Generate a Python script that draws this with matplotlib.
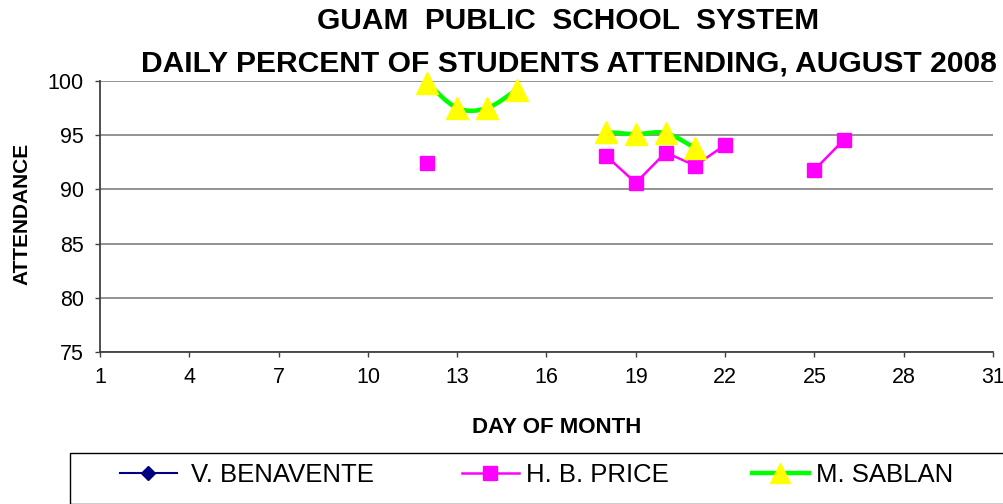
import numpy as np
import matplotlib
matplotlib.use("Agg")
import matplotlib.pyplot as plt
from matplotlib.path import Path
from matplotlib.patches import PathPatch, Rectangle
from matplotlib.lines import Line2D

plt.rcParams['font.family'] = ['Liberation Sans', 'DejaVu Sans']

# Days of August 2008 with readings (None = no reading)
days = [12, 13, 14, 15, 16, 17, 18, 19, 20, 21, 22, 23, 24, 25, 26]
benavente = [None] * len(days)
price = [92.4, None, None, None, None, None, 93.1, 90.6, 93.4, 92.2, 94.1, None, None, 91.8, 94.6]
sablan = [99.8, 97.5, 97.5, 99.2, None, None, 95.3, 95.1, 95.2, 93.8, None, None, None, None, None]

series_names = ['V. BENAVENTE', 'H. B. PRICE', 'M. SABLAN']
x_ticks = list(range(1, 32, 3))
y_ticks = [75, 80, 85, 90, 95, 100]

W, H = 1004, 504


def to_arr(vals):
    return np.array([np.nan if v is None else v for v in vals], dtype=float)


def runs(xs, ys):
    # split into consecutive non-missing stretches
    out, cur = [], []
    for x, y in zip(xs, ys):
        if np.isnan(y):
            if cur:
                out.append(cur)
            cur = []
        else:
            cur.append((x, y))
    if cur:
        out.append(cur)
    return out


def smooth_path(pts):
    # Excel-like smoothed line: cubic Bezier through the points
    verts = [pts[0]]
    codes = [Path.MOVETO]
    n = len(pts)
    for i in range(n - 1):
        p0 = np.array(pts[i - 1] if i > 0 else pts[i])
        p1 = np.array(pts[i])
        p2 = np.array(pts[i + 1])
        p3 = np.array(pts[i + 2] if i + 2 < n else pts[i + 1])
        c1 = p1 + (p2 - p0) / 6.0
        c2 = p2 - (p3 - p1) / 6.0
        verts += [tuple(c1), tuple(c2), tuple(p2)]
        codes += [Path.CURVE4] * 3
    return Path(verts, codes)


fig = plt.figure(figsize=(W / 100, H / 100), dpi=100)
ax = fig.add_axes([100 / W, 1 - 352 / H, 893 / W, 271 / H])

x = np.array(days)
p = to_arr(price)
s = to_arr(sablan)

ax.plot(x, to_arr(benavente), color='#000080', lw=1.5, marker='D', ms=7)

ax.plot(x, p, color='#FF00FF', lw=1.8, marker='s', ms=9.5,
        markerfacecolor='#FF00FF', markeredgecolor='#FF00FF', zorder=3)

for run in runs(x, s):
    if len(run) > 1:
        ax.add_patch(PathPatch(smooth_path(run), facecolor='none',
                               edgecolor='#00FF00', lw=3.2, zorder=4))
ax.plot(x, s, ls='none', marker='^', ms=16, markerfacecolor='#FFFF00',
        markeredgecolor='#FFFF00', zorder=5, clip_on=False)

ax.set_xlim(1, 31)
ax.set_ylim(75, 100)
ax.set_xticks(x_ticks)
ax.set_yticks(y_ticks)
ax.yaxis.grid(True, color='#808080', lw=1.2)
ax.set_axisbelow(True)
for side in ['top', 'right']:
    ax.spines[side].set_visible(False)
for side in ['left', 'bottom']:
    ax.spines[side].set_color('#404040')
    ax.spines[side].set_linewidth(1.3)
ax.tick_params(axis='both', direction='out', length=3.6, width=1, color='#404040',
               labelsize=15.5)
ax.tick_params(axis='x', pad=7.5)
ax.tick_params(axis='y', pad=8)

fig.text(568 / W, 1 - 29 / H, 'GUAM  PUBLIC  SCHOOL  SYSTEM', ha='center',
         va='baseline', fontsize=21.5, fontweight='bold')
fig.text(569 / W, 1 - 72 / H, 'DAILY PERCENT OF STUDENTS ATTENDING, AUGUST 2008',
         ha='center', va='baseline', fontsize=21.6, fontweight='bold')
fig.text(557 / W, 1 - 433 / H, 'DAY OF MONTH', ha='center', va='baseline',
         fontsize=16, fontweight='bold')
fig.text(22 / W, 1 - 214 / H, 'ATTENDANCE', ha='center', va='center',
         rotation=90, fontsize=15, fontweight='bold')

# legend frame (runs off the right and bottom edge like the reference)
fig.patches.append(Rectangle((70 / W, 0), 1.0, 1 - 453 / H, transform=fig.transFigure,
                             facecolor='none', edgecolor='black', lw=1))

handles = [
    Line2D([], [], color='#000080', lw=1.5, marker='D', ms=7),
    Line2D([], [], color='#FF00FF', lw=1.8, marker='s', ms=9.5),
    Line2D([], [], color='#00FF00', lw=3.2, marker='^', ms=14,
           markerfacecolor='#FFFF00', markeredgecolor='#FFFF00'),
]
handle_left = [120, 462, 752]
text_pad = [0.55, 0.3, 0.3]
for h, name, xl, tp in zip(handles, series_names, handle_left, text_pad):
    fig.legend([h], [name], loc='center left',
               bbox_to_anchor=(xl / W, 1 - 475 / H),
               fontsize=18.5, frameon=False, handlelength=2.2,
               handletextpad=tp, borderpad=0, borderaxespad=0)

fig.savefig('out.png', dpi=100)
